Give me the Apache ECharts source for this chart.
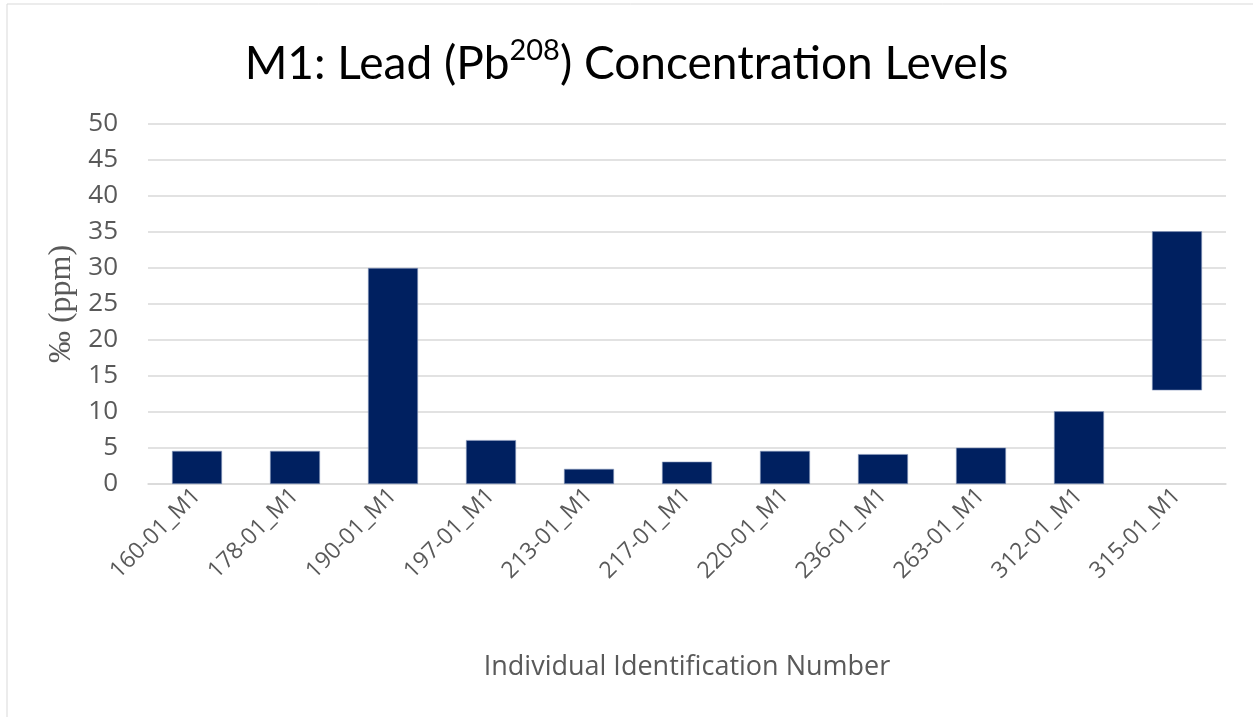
<!DOCTYPE html>
<html>
<head>
<meta charset="utf-8">
<title>M1: Lead (Pb208) Concentration Levels</title>
<script src="https://cdn.jsdelivr.net/npm/echarts@6/dist/echarts.min.js"></script>
<style>
  html, body { margin: 0; padding: 0; background: #fff; }
  #chart { width: 1253px; height: 717px; }
</style>
</head>
<body>
<div id="chart"></div>
<script>
// sample ids on the x axis
const sampleIds = [
  '160-01_M1', '178-01_M1', '190-01_M1', '197-01_M1', '213-01_M1', '217-01_M1',
  '220-01_M1', '236-01_M1', '263-01_M1', '312-01_M1', '315-01_M1'
];
// bar bottoms and tops (ppm)
const lowValues = [0, 0, 0, 0, 0, 0, 0, 0, 0, 0, 13];
const highValues = [4.6, 4.6, 30, 6.1, 2.1, 3.1, 4.6, 4.15, 5.05, 10.1, 35.1];
const yTicks = { min: 0, max: 50, interval: 5 };

const textColor = '#595959';
const gridColor = '#d9d9d9';
const barColor = '#002060';

const chart = echarts.init(document.getElementById('chart'));

chart.setOption({
  animation: false,
  backgroundColor: '#fff',
  title: {
    text: '{main|M1: Lead (Pb}{sup|208}{main|) Concentration Levels}',
    left: 'center',
    top: 31,
    textStyle: {
      fontWeight: 'normal',
      rich: {
        main: { fontFamily: 'Lato', fontWeight: 'normal', fontSize: 46, color: '#000', lineHeight: 56 },
        sup: { fontFamily: 'Lato', fontWeight: 'normal', fontSize: 29, color: '#000', verticalAlign: 'top', lineHeight: 40 }
      }
    }
  },
  graphic: [{
    type: 'rect',
    shape: { x: 7, y: 4, width: 1260, height: 730 },
    style: { fill: 'none', stroke: gridColor, lineWidth: 1 },
    silent: true
  }],
  grid: { left: 148, right: 27, top: 124, bottom: 233 },
  xAxis: {
    type: 'category',
    data: sampleIds,
    name: 'Individual Identification Number',
    nameLocation: 'middle',
    nameGap: 170,
    nameTextStyle: { fontFamily: 'Open Sans', fontSize: 27, color: textColor },
    axisLine: { lineStyle: { color: gridColor, width: 1.5 } },
    axisTick: { show: false },
    axisLabel: {
      rotate: 45,
      interval: 0,
      margin: 8,
      fontFamily: 'Open Sans',
      fontSize: 23,
      color: textColor
    }
  },
  yAxis: {
    type: 'value',
    min: yTicks.min,
    max: yTicks.max,
    interval: yTicks.interval,
    name: '‰ (ppm)',
    nameLocation: 'middle',
    nameGap: 70,
    nameTextStyle: { fontFamily: 'Liberation Serif', fontSize: 32, color: textColor },
    axisLine: { show: false },
    axisTick: { show: false },
    axisLabel: { fontFamily: 'Open Sans', fontSize: 26, color: textColor, margin: 30 },
    splitLine: { lineStyle: { color: gridColor, width: 1.5 } }
  },
  series: [
    {
      name: 'base',
      type: 'bar',
      stack: 'range',
      data: lowValues,
      barWidth: '51%',
      itemStyle: { color: 'transparent' },
      silent: true
    },
    {
      name: 'Pb208',
      type: 'bar',
      stack: 'range',
      data: highValues.map((v, i) => +(v - lowValues[i]).toFixed(2)),
      barWidth: '51%',
      itemStyle: { color: barColor, borderColor: '#8a9bbd', borderWidth: 0.6 }
    }
  ]
});

window.addEventListener('resize', () => chart.resize());
</script>
</body>
</html>
